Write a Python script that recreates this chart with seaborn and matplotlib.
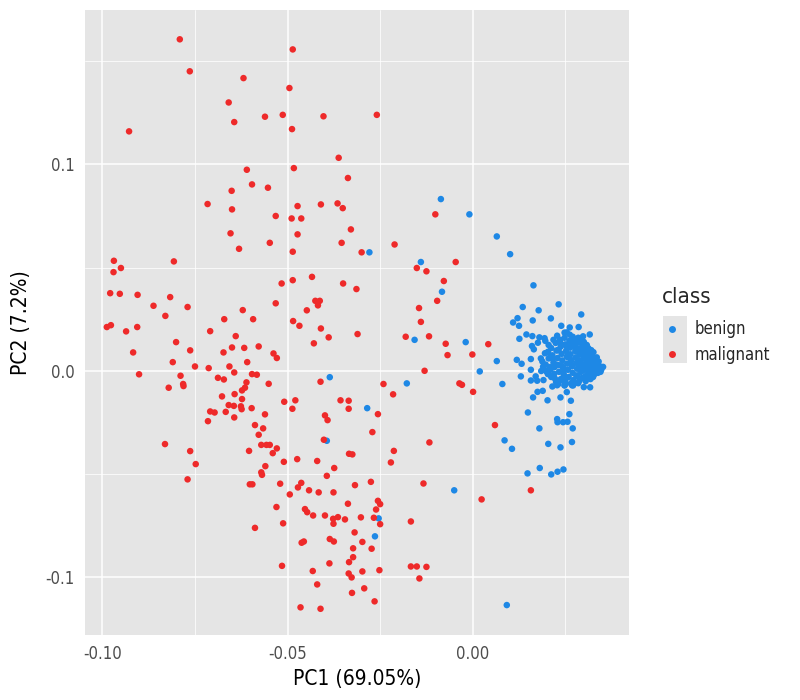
import matplotlib
matplotlib.use("Agg")
import matplotlib.pyplot as plt
import seaborn as sns
import pandas as pd
from matplotlib.lines import Line2D
from matplotlib.patches import Rectangle

# ---------------- data ----------------
mal_pc1 = [-0.0791, -0.0764, -0.0619, -0.0659, -0.0561, -0.0644, -0.0928, -0.0610, -0.0596, -0.0553,
           -0.0651, -0.0716, -0.0650, -0.0486, -0.0495, -0.0513, -0.0403, -0.0259, -0.0488, -0.0362,
           -0.0483, -0.0337, -0.0101, -0.0473, -0.0410, -0.0365, -0.0351, -0.0532, -0.0489, -0.0463,
           -0.0654, -0.0631, -0.0548, -0.0969, -0.0950, -0.0970, -0.0807, -0.0979, -0.0953, -0.0905,
           -0.0817, -0.0862, -0.0770, -0.0830, -0.0621, -0.0671, -0.0593, -0.0988, -0.0977, -0.0906,
           -0.0936, -0.0709, -0.0640, -0.0801, -0.0650, -0.0617, -0.0578, -0.0763, -0.0673, -0.0917,
           -0.0810, -0.0609, -0.0750, -0.0713, -0.0657, -0.0644, -0.0596, -0.0583, -0.0901, -0.0789,
           -0.0688, -0.0672, -0.0611, -0.0551, -0.0782, -0.0781, -0.0821, -0.0615, -0.0623, -0.0643,
           -0.0677, -0.0623, -0.0659, -0.0645, -0.0626, -0.0624, -0.0597, -0.0709, -0.0697, -0.0667,
           -0.0644, -0.0561, -0.0715, -0.0588, -0.0566, -0.0473, -0.0329, -0.0354, -0.0486, -0.0300,
           -0.0211, -0.0151, -0.0125, -0.0046, -0.0486, -0.0434, -0.0516, -0.0350, -0.0314, -0.0078,
           -0.0096, -0.0532, -0.0425, -0.0413, -0.0418, -0.0448, -0.0145, -0.0485, -0.0468, -0.0410,
           -0.0389, -0.0311, -0.0140, -0.0181, -0.0118, -0.0073, -0.0068, -0.0429, -0.0538, -0.0529,
           -0.0130, -0.0411, -0.0241, -0.0215, -0.0509, -0.0479, -0.0487, -0.0357, -0.0335, -0.0335,
           -0.0256, -0.0399, -0.0392, -0.0271, 0.0042, -0.0001, -0.0036, -0.0029, 0.0001, 0.0060,
           -0.0831, -0.0763, -0.0748, -0.0770, -0.0578, -0.0571, -0.0557, -0.0548, -0.0604, -0.0560,
           -0.0571, -0.0569, -0.0602, -0.0595, -0.0588, -0.0402, -0.0529, -0.0540, -0.0117, -0.0213,
           -0.0221, -0.0334, -0.0325, -0.0510, -0.0474, -0.0420, -0.0374, -0.0394, -0.0520, -0.0463,
           -0.0472, -0.0494, -0.0442, -0.0416, -0.0376, -0.0318, -0.0275, -0.0133, -0.0530, -0.0453,
           -0.0447, -0.0431, -0.0399, -0.0377, -0.0364, -0.0376, -0.0345, -0.0337, -0.0302, -0.0256,
           -0.0250, -0.0261, -0.0267, -0.0250, -0.0167, -0.0512, -0.0319, -0.0386, -0.0375, -0.0462,
           -0.0456, -0.0298, -0.0323, -0.0273, -0.0323, -0.0334, -0.0387, -0.0515, -0.0432, -0.0335,
           -0.0327, -0.0298, -0.0252, -0.0167, -0.0151, -0.0125, -0.0144, -0.0420, -0.0326, -0.0293,
           -0.0265, -0.0465, -0.0411, 0.0157, 0.0024]
mal_pc2 = [0.1606, 0.1451, 0.1418, 0.1300, 0.1231, 0.1205, 0.1160, 0.0974, 0.0903, 0.0887,
           0.0872, 0.0808, 0.0782, 0.1557, 0.1370, 0.1240, 0.1233, 0.1240, 0.1171, 0.1032,
           0.0982, 0.0934, 0.0758, 0.0798, 0.0806, 0.0811, 0.0788, 0.0750, 0.0738, 0.0738,
           0.0666, 0.0591, 0.0620, 0.0533, 0.0498, 0.0478, 0.0530, 0.0376, 0.0373, 0.0368,
           0.0357, 0.0315, 0.0309, 0.0266, 0.0294, 0.0250, 0.0250, 0.0212, 0.0221, 0.0212,
           0.0191, 0.0192, 0.0168, 0.0139, 0.0113, 0.0111, 0.0118, 0.0099, 0.0089, 0.0089,
           0.0042, 0.0042, 0.0021, 0.0013, 0.0021, -0.0008, -0.0016, -0.0019, -0.0017, -0.0024,
           -0.0034, -0.0042, -0.0056, -0.0063, -0.0064, -0.0074, -0.0082, -0.0082, -0.0095, -0.0113,
           -0.0124, -0.0137, -0.0166, -0.0170, -0.0172, -0.0186, -0.0181, -0.0197, -0.0202, -0.0199,
           -0.0226, -0.0211, -0.0244, -0.0263, -0.0279, 0.0661, 0.0685, 0.0620, 0.0577, 0.0574,
           0.0612, 0.0498, 0.0482, 0.0527, 0.0439, 0.0455, 0.0423, 0.0423, 0.0396, 0.0435,
           0.0339, 0.0327, 0.0339, 0.0339, 0.0317, 0.0293, 0.0304, 0.0241, 0.0218, 0.0205,
           0.0162, 0.0178, 0.0237, 0.0165, 0.0167, 0.0131, 0.0076, 0.0133, 0.0084, 0.0062,
           0.0000, -0.0053, -0.0064, -0.0114, -0.0150, -0.0143, -0.0184, -0.0143, -0.0145, -0.0184,
           -0.0210, -0.0216, -0.0239, -0.0297, 0.0129, 0.0079, -0.0061, -0.0068, -0.0102, -0.0263,
           -0.0355, -0.0389, -0.0452, -0.0526, -0.0310, -0.0359, -0.0359, -0.0359, -0.0388, -0.0462,
           -0.0492, -0.0504, -0.0550, -0.0550, -0.0761, -0.0334, -0.0376, -0.0399, -0.0347, -0.0388,
           -0.0444, -0.0402, -0.0405, -0.0441, -0.0428, -0.0437, -0.0471, -0.0509, -0.0547, -0.0543,
           -0.0565, -0.0599, -0.0579, -0.0589, -0.0589, -0.0554, -0.0538, -0.0546, -0.0660, -0.0670,
           -0.0685, -0.0701, -0.0701, -0.0717, -0.0709, -0.0741, -0.0720, -0.0644, -0.0710, -0.0630,
           -0.0646, -0.0672, -0.0712, -0.0743, -0.0730, -0.0739, -0.0783, -0.0815, -0.0827, -0.0833,
           -0.0827, -0.0829, -0.0860, -0.0862, -0.0903, -0.0927, -0.0933, -0.0945, -0.0970, -0.0982,
           -0.1001, -0.0972, -0.0966, -0.0948, -0.0948, -0.0950, -0.1006, -0.1035, -0.1076, -0.1054,
           -0.1117, -0.1146, -0.1153, -0.0579, -0.0623]

ben_pc1 = [-0.0086, -0.0009, -0.0279, -0.0140, -0.0083, -0.0157, -0.0386, -0.0178, -0.0285, -0.0394,
           -0.0254, -0.0264, -0.0050, 0.0092, 0.0065, 0.0101, 0.0164, 0.0135, 0.0178, 0.0232,
           0.0121, 0.0109, 0.0125, 0.0162, 0.0211, 0.0293, 0.0239, 0.0262, 0.0286, 0.0254,
           0.0316, 0.0298, 0.0126, 0.0145, 0.0161, 0.0180, 0.0194, 0.0196, -0.0019, 0.0160,
           0.0165, 0.0176, 0.0065, 0.0119, 0.0132, 0.0157, 0.0019, 0.0080, 0.0130, 0.0157,
           0.0157, 0.0170, 0.0174, 0.0191, 0.0185, 0.0203, 0.0215, 0.0231, 0.0248, 0.0271,
           0.0300, 0.0317, 0.0175, 0.0189, 0.0163, 0.0202, 0.0237, 0.0254, 0.0265, 0.0149,
           0.0261, 0.0228, 0.0229, 0.0244, 0.0256, 0.0180, 0.0270, 0.0086, 0.0106, 0.0204,
           0.0237, 0.0268, 0.0148, 0.0181, 0.0212, 0.0229, 0.0245,
           # dense core
           0.0195, 0.0203, 0.0188, 0.0197, 0.0205, 0.0212, 0.0215, 0.0218, 0.0221, 0.0224,
           0.0226, 0.0229, 0.0231, 0.0233, 0.0236, 0.0238, 0.0240, 0.0242, 0.0244, 0.0246,
           0.0248, 0.0250, 0.0252, 0.0254, 0.0255, 0.0257, 0.0259, 0.0261, 0.0263, 0.0264,
           0.0266, 0.0268, 0.0270, 0.0272, 0.0273, 0.0275, 0.0277, 0.0278, 0.0280, 0.0282,
           0.0283, 0.0285, 0.0287, 0.0288, 0.0290, 0.0291, 0.0293, 0.0295, 0.0296, 0.0298,
           0.0300, 0.0301, 0.0303, 0.0305, 0.0307, 0.0308, 0.0310, 0.0312, 0.0313, 0.0315,
           0.0317, 0.0319, 0.0321, 0.0323, 0.0325, 0.0327, 0.0330, 0.0333, 0.0337, 0.0343,
           0.0205, 0.0212, 0.0225, 0.0238, 0.0252, 0.0262, 0.0248, 0.0270, 0.0285, 0.0300,
           0.0312, 0.0305, 0.0285, 0.0318, 0.0328, 0.0335, 0.0326, 0.0292, 0.0228, 0.0218,
           0.0200, 0.0208, 0.0352, 0.0347, 0.0340, 0.0338, 0.0331, 0.0322, 0.0314, 0.0296,
           0.0279, 0.0267, 0.0256, 0.0244, 0.0232, 0.0222, 0.0210, 0.0190, 0.0184, 0.0199,
           0.0210, 0.0220, 0.0230, 0.0240, 0.0250, 0.0260, 0.0270, 0.0280, 0.0290, 0.0300,
           0.0310, 0.0320, 0.0215, 0.0225, 0.0235, 0.0245, 0.0255, 0.0265, 0.0275, 0.0285,
           0.0295, 0.0305, 0.0315, 0.0325, 0.0335, 0.0345, 0.0228, 0.0248, 0.0268, 0.0288,
           0.0308, 0.0258, 0.0278, 0.0298, 0.0238, 0.0318]
ben_pc2 = [0.0832, 0.0758, 0.0574, 0.0527, 0.0383, 0.0150, -0.0031, -0.0061, -0.0181, -0.0339,
           -0.0715, -0.0802, -0.0579, -0.1135, 0.0651, 0.0565, 0.0414, 0.0309, 0.0293, 0.0322,
           0.0255, 0.0234, 0.0218, 0.0244, 0.0254, 0.0273, 0.0218, 0.0210, 0.0212, 0.0186,
           0.0176, 0.0167, 0.0155, 0.0176, 0.0168, 0.0162, 0.0158, 0.0145, 0.0139, 0.0120,
           0.0104, 0.0136, 0.0047, 0.0053, 0.0034, 0.0057, -0.0003, -0.0064, -0.0027, 0.0005,
           -0.0047, -0.0027, -0.0048, -0.0045, -0.0001, -0.0016, -0.0076, -0.0064, -0.0071, -0.0071,
           -0.0079, -0.0080, -0.0102, -0.0097, -0.0129, -0.0143, -0.0129, -0.0103, -0.0145, -0.0202,
           -0.0210, -0.0234, -0.0249, -0.0249, -0.0247, -0.0279, -0.0279, -0.0337, -0.0378, -0.0354,
           -0.0371, -0.0345, -0.0497, -0.0471, -0.0502, -0.0489, -0.0478,
           # dense core
           0.0085, 0.0092, 0.0045, 0.0030, 0.0060, 0.0110, 0.0075, 0.0040, 0.0018, 0.0135,
           0.0098, 0.0062, 0.0028, -0.0005, 0.0150, 0.0118, 0.0082, 0.0050, 0.0015, -0.0020,
           0.0160, 0.0128, 0.0096, 0.0068, 0.0035, 0.0005, -0.0030, 0.0145, 0.0112, 0.0080,
           0.0052, 0.0022, -0.0010, -0.0045, 0.0155, 0.0125, 0.0095, 0.0065, 0.0038, 0.0010,
           -0.0022, 0.0138, 0.0108, 0.0078, 0.0050, 0.0025, -0.0005, -0.0035, 0.0120, 0.0090,
           0.0060, 0.0032, 0.0005, -0.0025, 0.0100, 0.0070, 0.0042, 0.0015, -0.0012, 0.0085,
           0.0055, 0.0025, -0.0002, 0.0070, 0.0040, 0.0012, 0.0050, 0.0020, 0.0030, 0.0022,
           0.0125, -0.0030, -0.0055, -0.0040, -0.0062, 0.0175, 0.0185, 0.0165, 0.0160, 0.0140,
           0.0110, -0.0050, -0.0060, -0.0040, -0.0018, 0.0000, 0.0090, 0.0145, 0.0170, 0.0150,
           -0.0005, 0.0018, 0.0019, 0.0005, 0.0045, -0.0010, 0.0035, 0.0058, -0.0035, 0.0105,
           0.0132, -0.0058, 0.0118, -0.0048, 0.0102, -0.0038, 0.0072, 0.0020, 0.0060, 0.0000,
           0.0005, -0.0015, 0.0100, 0.0025, -0.0045, 0.0065, 0.0130, -0.0025, 0.0100, 0.0075,
           -0.0030, 0.0100, 0.0060, 0.0030, 0.0140, -0.0010, 0.0115, 0.0035, -0.0060, 0.0045,
           0.0145, 0.0020, 0.0060, -0.0030, 0.0065, -0.0005, -0.0070, -0.0070, -0.0070, -0.0048,
           0.0125, 0.0080, 0.0110, 0.0010, 0.0130, 0.0040]

classes = ["benign", "malignant"]
colors = ["#1E88E5", "#EE2A2A"]

df = pd.DataFrame({
    "PC1": ben_pc1 + mal_pc1,
    "PC2": ben_pc2 + mal_pc2,
    "class": [classes[0]] * len(ben_pc1) + [classes[1]] * len(mal_pc1),
})

# ---------------- style ----------------
sns.set_style("darkgrid")
plt.rcParams["font.family"] = ["DejaVu Sans"]
plt.rcParams["font.stretch"] = "condensed"

fig = plt.figure(figsize=(8, 7), dpi=100)
ax = fig.add_axes([85 / 800, 65 / 700, (629 - 85) / 800, (635 - 10) / 700])
ax.set_facecolor("#E5E5E5")

sns.scatterplot(data=df, x="PC1", y="PC2", hue="class", hue_order=classes,
                palette=dict(zip(classes, colors)), s=22, linewidth=0,
                alpha=1.0, legend=False, ax=ax)

ax.set_xlim(-0.1047, 0.0422)
ax.set_ylim(-0.1280, 0.1748)
ax.set_xticks([-0.10, -0.05, 0.00])
ax.set_xticklabels(["-0.10", "-0.05", "0.00"])
ax.set_yticks([-0.1, 0.0, 0.1])
ax.set_yticklabels(["-0.1", "0.0", "0.1"])
ax.set_xticks([-0.075, -0.025, 0.025], minor=True)
ax.set_yticks([-0.05, 0.05, 0.15], minor=True)
ax.grid(which="major", color="white", linewidth=1.1)
ax.grid(which="minor", color="white", linewidth=0.55)
ax.set_axisbelow(True)
for sp in ax.spines.values():
    sp.set_visible(False)
ax.tick_params(axis="both", which="major", length=3.5, width=0.8, color="#333333",
               labelcolor="#4D4D4D", labelsize=12, pad=4)
ax.tick_params(axis="both", which="minor", length=0)

ax.set_xlabel("PC1 (69.05%)", fontsize=15, color="black", labelpad=4)
ax.set_ylabel("PC2 (7.2%)", fontsize=15, color="black", labelpad=10)

# legend
handles = [Line2D([0], [0], marker="o", linestyle="", markersize=5,
                  markerfacecolor=c, markeredgewidth=0) for c in colors]
fig.patches.append(Rectangle((663 / 800, 1 - 363 / 700), 24 / 800, 47 / 700,
                             transform=fig.transFigure, facecolor="#E5E5E5",
                             edgecolor="none", zorder=0))
fig.text(662 / 800, 1 - 297 / 700, "class", fontsize=16, ha="left", va="center")
leg = fig.legend(handles, classes, loc="upper left",
                 bbox_to_anchor=(655 / 800, 1 - 317 / 700), frameon=False,
                 fontsize=12, handletextpad=0.6,
                 labelspacing=0.45, handlelength=1.6, borderaxespad=0, borderpad=0.2)

fig.savefig("out.png", dpi=100)
